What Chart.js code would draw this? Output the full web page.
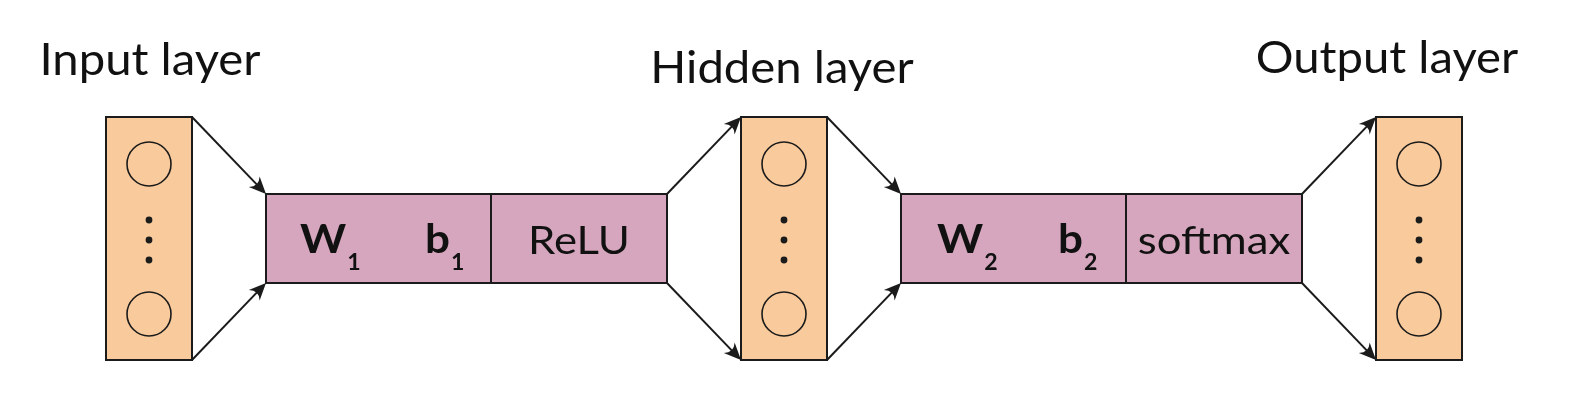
<!DOCTYPE html>
<html>
<head>
<meta charset="utf-8">
<script src="https://cdn.jsdelivr.net/npm/chart.js@4.4.1/dist/chart.umd.min.js"></script>
<style>
html,body{margin:0;padding:0;background:#fff}
#wrap{width:1595px;height:402px;position:relative}
</style>
</head>
<body>
<div id="wrap"><canvas id="net"></canvas></div>
<script>
// layer columns (data units = picture pixels, y counted from the top)
const layerNames=['Input layer','Hidden layer','Output layer'];
const layerLeft=[106,741,1376];
const layerRight=[192,827,1462];
const layerTop=117,layerBottom=360;
const labelX=[150,782,1387];
const labelY=[75,83,73];
const nodeY=[164,314];
const dotY=[220,240,260];

// transformation blocks between the layers
const blockIndex=['1','2'];
const activations=['ReLU','softmax'];
const blockLeft=[266,901];
const blockSplit=[491,1126];
const blockRight=[667,1302];
const blockTop=194,blockBottom=283;
const weightX=[300,937];
const biasX=[425,1058];

const ink='#1b1b1b';
const orange='#f9cb9c';
const pink='#d5a6bd';

const layerCenter=layerLeft.map((l,i)=>(l+layerRight[i])/2);
const nodes=[],dots=[];
layerCenter.forEach(x=>{
  nodeY.forEach(y=>nodes.push({x,y}));
  dotY.forEach(y=>dots.push({x,y}));
});

function arrow(ctx,x0,y0,x1,y1){
  const a=Math.atan2(y1-y0,x1-x0);
  const len=17,half=7.5,notch=11;
  ctx.beginPath();
  ctx.moveTo(x0,y0);
  ctx.lineTo(x1-Math.cos(a)*notch,y1-Math.sin(a)*notch);
  ctx.stroke();
  ctx.save();
  ctx.translate(x1,y1);ctx.rotate(a);
  ctx.beginPath();
  ctx.moveTo(0,0);
  ctx.lineTo(-len,-half);
  ctx.quadraticCurveTo(-notch*0.9,0,-len,half);
  ctx.closePath();
  ctx.fill();
  ctx.restore();
}

// text drawn a little wider than the installed Lato
function wideText(ctx,t,x,y,sx){
  ctx.save();
  ctx.translate(x,y);ctx.scale(sx,1);
  ctx.fillText(t,0,0);
  const w=ctx.measureText(t).width*sx;
  ctx.restore();
  return w;
}

const diagram={
  id:'diagram',
  beforeDatasetsDraw(chart){
    const {ctx,scales:{x,y}}=chart;
    const px=v=>x.getPixelForValue(v),py=v=>y.getPixelForValue(v);
    ctx.save();
    ctx.lineWidth=2;ctx.strokeStyle=ink;ctx.fillStyle=ink;ctx.lineJoin='miter';
    // arrows
    blockLeft.forEach((bl,i)=>{
      arrow(ctx,px(layerRight[i]),py(layerTop),px(bl),py(blockTop));
      arrow(ctx,px(layerRight[i]),py(layerBottom),px(bl),py(blockBottom));
      arrow(ctx,px(blockRight[i]),py(blockTop),px(layerLeft[i+1]),py(layerTop));
      arrow(ctx,px(blockRight[i]),py(blockBottom),px(layerLeft[i+1]),py(layerBottom));
    });
    // layer boxes
    layerLeft.forEach((l,i)=>{
      ctx.fillStyle=orange;
      ctx.fillRect(px(l),py(layerTop),px(layerRight[i])-px(l),py(layerBottom)-py(layerTop));
      ctx.strokeRect(px(l),py(layerTop),px(layerRight[i])-px(l),py(layerBottom)-py(layerTop));
    });
    // blocks
    blockLeft.forEach((l,i)=>{
      ctx.fillStyle=pink;
      ctx.fillRect(px(l),py(blockTop),px(blockRight[i])-px(l),py(blockBottom)-py(blockTop));
      ctx.strokeRect(px(l),py(blockTop),px(blockRight[i])-px(l),py(blockBottom)-py(blockTop));
      ctx.beginPath();
      ctx.moveTo(px(blockSplit[i]),py(blockTop));
      ctx.lineTo(px(blockSplit[i]),py(blockBottom));
      ctx.stroke();
    });
    ctx.restore();
  },
  afterDatasetsDraw(chart){
    const {ctx,scales:{x,y}}=chart;
    const px=v=>x.getPixelForValue(v),py=v=>y.getPixelForValue(v);
    ctx.save();
    ctx.fillStyle='#111';
    ctx.textBaseline='alphabetic';
    ctx.textAlign='center';
    ctx.font='45px Lato';
    layerNames.forEach((t,i)=>wideText(ctx,t,px(labelX[i]),py(labelY[i]),1.05));
    blockLeft.forEach((l,i)=>{
      ctx.textAlign='left';
      [['W',weightX[i]],['b',biasX[i]]].forEach(([s,bx])=>{
        ctx.font='bold 40px Lato';
        const w=wideText(ctx,s,px(bx),py(253),1.1);
        ctx.font='bold 22px Lato';
        wideText(ctx,blockIndex[i],px(bx)+w+1,py(270),1.05);
      });
      ctx.textAlign='center';
      ctx.font='39px Lato';
      wideText(ctx,activations[i],px((blockSplit[i]+blockRight[i])/2),py(254),1.12);
    });
    ctx.restore();
  }
};

new Chart(document.getElementById('net'),{
  type:'scatter',
  data:{datasets:[
    {label:'nodes',data:nodes,pointRadius:22,pointHoverRadius:22,backgroundColor:'rgba(0,0,0,0)',borderColor:ink,borderWidth:1.6},
    {label:'dots',data:dots,pointRadius:3.4,pointHoverRadius:3.4,backgroundColor:ink,borderColor:ink,borderWidth:0}
  ]},
  options:{
    responsive:true,
    maintainAspectRatio:false,
    animation:false,
    events:[],
    layout:{padding:0,autoPadding:false},
    plugins:{legend:{display:false},tooltip:{enabled:false}},
    scales:{
      x:{type:'linear',min:0,max:1595,display:false},
      y:{type:'linear',min:0,max:402,reverse:true,display:false}
    }
  },
  plugins:[diagram]
});
</script>
</body>
</html>
